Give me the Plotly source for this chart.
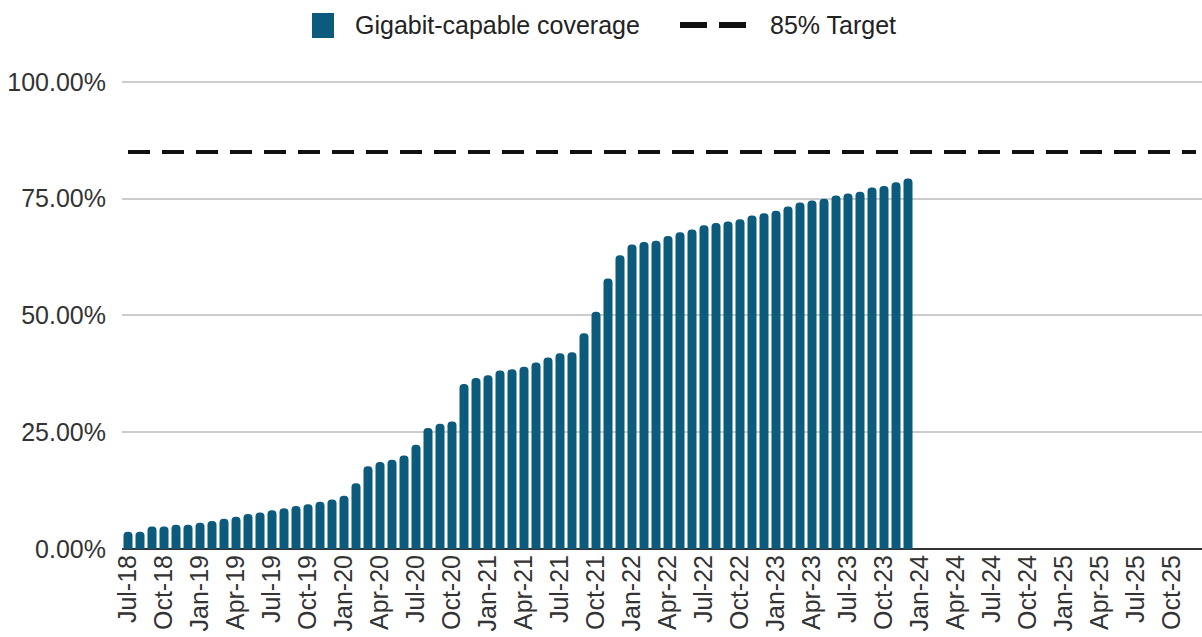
import pandas as pd
import plotly.graph_objects as go

# Categories: monthly, Jul-18 .. Dec-25
months = list(pd.date_range("2018-07-01", periods=90, freq="MS").strftime("%b-%y"))

# Gigabit-capable coverage (%), Jul-18 .. Dec-23
coverage = [
    3.7, 3.7, 4.8, 4.8, 5.2, 5.2, 5.6, 6.0, 6.5, 6.9, 7.5, 7.8,
    8.3, 8.7, 9.2, 9.6, 10.1, 10.6, 11.4, 14.1, 17.7, 18.6, 19.1, 20.0,
    22.3, 25.9, 26.8, 27.3, 35.3, 36.6, 37.2, 38.2, 38.5, 39.0, 39.9, 41.0,
    41.9, 42.1, 46.2, 50.8, 57.9, 62.9, 65.2, 65.7, 66.0, 67.0, 67.8, 68.4,
    69.3, 69.8, 70.1, 70.6, 71.4, 71.9, 72.4, 73.3, 74.2, 74.6, 75.0, 75.7,
    76.1, 76.5, 77.4, 77.7, 78.5, 79.3,
]
target = 85
series_names = ["Gigabit-capable coverage", "85% Target"]

y_ticks = [0, 25, 50, 75, 100]
y_tick_text = ["0.00%", "25.00%", "50.00%", "75.00%", "100.00%"]
x_tick_vals = months[::3]

FONT = "Liberation Sans, Arial, sans-serif"
BAR = "#0d5b7c"

W, H = 1202, 637
ML, MR, MT, MB = 122, 0, 80, 88
PW, PH = W - ML - MR, H - MT - MB


def px(x):  # pixel x -> paper x
    return (x - ML) / PW


def py(y):  # pixel y -> paper y
    return (H - MB - y) / PH


fig = go.Figure()
fig.add_trace(go.Bar(
    x=months[:len(coverage)], y=coverage,
    name=series_names[0], showlegend=False,
    marker=dict(color=BAR, line=dict(width=0), cornerradius=4),
))
fig.add_trace(go.Scatter(
    x=[months[0], months[-1]], y=[target, target],
    mode="lines", name=series_names[1], showlegend=False,
    line=dict(color="#111111", width=4, dash="22px,12px"),
))

# Custom legend (larger swatch and two-dash symbol as in the reference)
shapes = [
    dict(type="rect", xref="paper", yref="paper",
         x0=px(312), x1=px(334), y0=py(38), y1=py(13),
         fillcolor=BAR, line=dict(width=0)),
    dict(type="line", xref="paper", yref="paper",
         x0=px(680), x1=px(707), y0=py(25), y1=py(25),
         line=dict(color="#111111", width=6)),
    dict(type="line", xref="paper", yref="paper",
         x0=px(719), x1=px(746), y0=py(25), y1=py(25),
         line=dict(color="#111111", width=6)),
]
annotations = [
    dict(text=series_names[0], xref="paper", yref="paper", x=px(353), y=py(25),
         xanchor="left", yanchor="middle", showarrow=False,
         font=dict(size=25, color="#222222", family=FONT)),
    dict(text=series_names[1], xref="paper", yref="paper", x=px(768), y=py(25),
         xanchor="left", yanchor="middle", showarrow=False,
         font=dict(size=25, color="#222222", family=FONT)),
]

fig.update_layout(
    width=W, height=H,
    margin=dict(l=ML, r=MR, t=MT, b=MB),
    paper_bgcolor="white", plot_bgcolor="white",
    font=dict(family=FONT, size=25, color="#333333"),
    bargap=0.25,
    showlegend=False,
    shapes=shapes,
    annotations=annotations,
    xaxis=dict(
        type="category", categoryorder="array", categoryarray=months,
        range=[-0.5, len(months) - 0.5], automargin=False,
        tickmode="array", tickvals=x_tick_vals, ticktext=x_tick_vals,
        tickangle=-90, showgrid=False, ticks="",
        tickfont=dict(size=25, color="#333333"),
        showline=False,
    ),
    yaxis=dict(
        range=[0, 100.4], automargin=False,
        tickmode="array", tickvals=y_ticks, ticktext=y_tick_text,
        showgrid=True, gridcolor="#cccccc", gridwidth=1.5,
        zeroline=True, zerolinecolor="#333333", zerolinewidth=2,
        ticks="outside", ticklen=10, tickcolor="rgba(0,0,0,0)",
        tickfont=dict(size=25, color="#333333"),
    ),
)

fig.write_html(
    "out.html",
    config={"displayModeBar": False},
    post_script="document.body.style.margin='0px';",
)
